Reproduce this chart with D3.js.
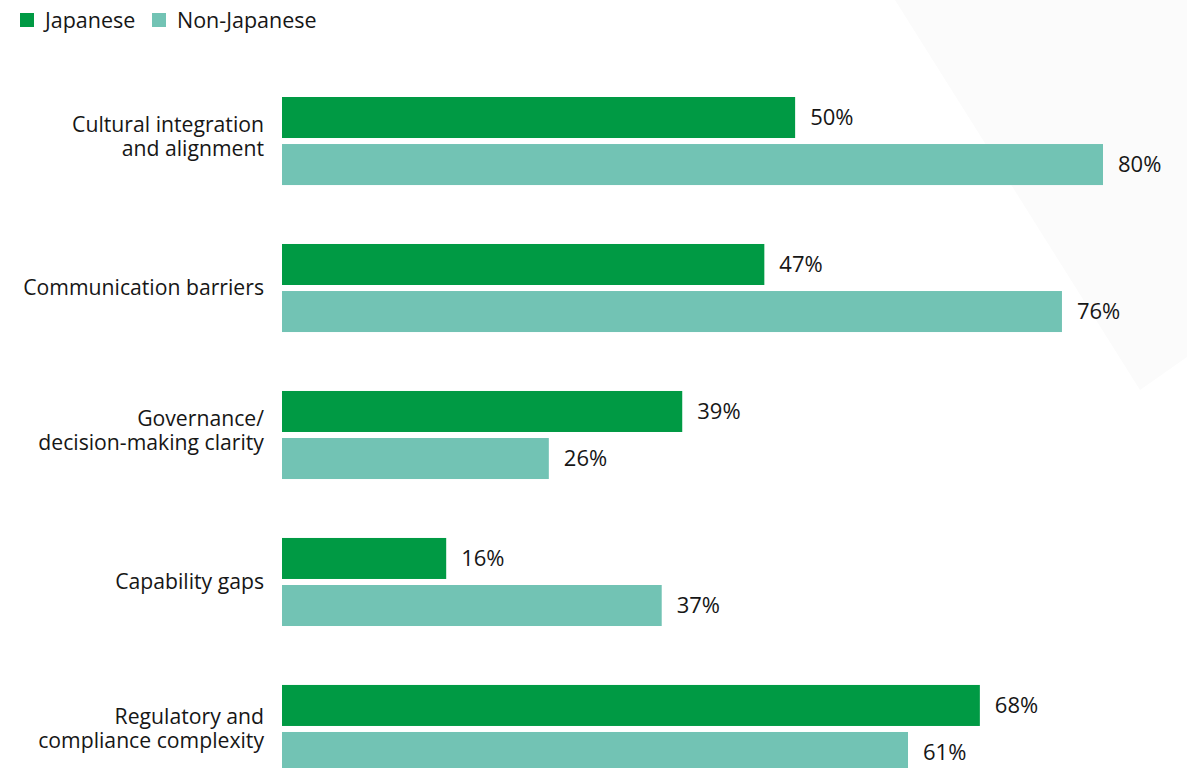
<!DOCTYPE html>
<html>
<head>
<meta charset="utf-8">
<script src="https://cdn.jsdelivr.net/npm/d3@7"></script>
<style>
  html, body { margin: 0; padding: 0; background: #ffffff; }
  svg { display: block; font-family: "Open Sans", "Noto Sans", sans-serif; }
</style>
</head>
<body>
<svg id="chart" width="1187" height="768"></svg>
<script>
const categories = [
  "Cultural integration and alignment",
  "Communication barriers",
  "Governance/ decision-making clarity",
  "Capability gaps",
  "Regulatory and compliance complexity"
];
const categoryLines = [
  ["Cultural integration", "and alignment"],
  ["Communication barriers"],
  ["Governance/", "decision-making clarity"],
  ["Capability gaps"],
  ["Regulatory and", "compliance complexity"]
];
const seriesNames = ["Japanese", "Non-Japanese"];
const japanese = [50, 47, 39, 16, 68];
const nonJapanese = [80, 76, 26, 37, 61];
const seriesColors = ["#009a44", "#72c3b4"];

const svg = d3.select("#chart");
const textColor = "#161616";

// faint background shape
svg.append("polygon")
  .attr("points", "895,0 1187,0 1187,357 1140,390")
  .attr("fill", "#fbfbfb");

const x = d3.scaleLinear().domain([0, 80]).range([282, 1103]);
const y = d3.scaleBand().domain(categories).range([97, 773]).paddingInner(0.401).paddingOuter(0);
const ySub = d3.scaleBand().domain(seriesNames).range([0, y.bandwidth()]).paddingInner(0.128);

const data = categories.map((c, i) => ({
  cat: c, lines: categoryLines[i],
  values: [
    { s: seriesNames[0], v: japanese[i] },
    { s: seriesNames[1], v: nonJapanese[i] }
  ]
}));
const color = d3.scaleOrdinal().domain(seriesNames).range(seriesColors);

const groups = svg.append("g").selectAll("g.grp").data(data).join("g")
  .attr("class", "grp")
  .attr("transform", d => `translate(0,${y(d.cat)})`);

groups.selectAll("rect").data(d => d.values).join("rect")
  .attr("x", x(0))
  .attr("y", d => ySub(d.s))
  .attr("width", d => x(d.v) - x(0))
  .attr("height", ySub.bandwidth())
  .attr("fill", d => color(d.s));

groups.selectAll("text.val").data(d => d.values).join("text")
  .attr("class", "val")
  .attr("x", d => x(d.v) + 15)
  .attr("y", d => ySub(d.s) + ySub.bandwidth() / 2)
  .attr("dy", "0.35em")
  .attr("font-size", 22)
  .attr("fill", textColor)
  .text(d => d.v + "%");

// category labels (one text per line)
groups.each(function(d, gi) {
  const g = d3.select(this);
  const n = d.lines.length;
  const lh = 24;
  const cy = y.bandwidth() / 2 - (n > 1 && gi < 3 ? 4 : 0);
  d.lines.forEach((ln, i) => {
    g.append("text")
      .attr("text-anchor", "end")
      .attr("font-size", 21.2)
      .attr("fill", textColor)
      .attr("x", 264)
      .attr("y", cy + (i - (n - 1) / 2) * lh)
      .attr("dy", "0.35em")
      .text(ln);
  });
});

// legend
const legend = svg.append("g");
const legX = [20, 152];
seriesNames.forEach((s, i) => {
  legend.append("rect")
    .attr("x", legX[i]).attr("y", 13)
    .attr("width", 14).attr("height", 14)
    .attr("fill", seriesColors[i]);
  legend.append("text")
    .attr("x", legX[i] + 25).attr("y", 20)
    .attr("dy", "0.35em")
    .attr("font-size", 21.5)
    .attr("fill", textColor)
    .text(s);
});
</script>
</body>
</html>
